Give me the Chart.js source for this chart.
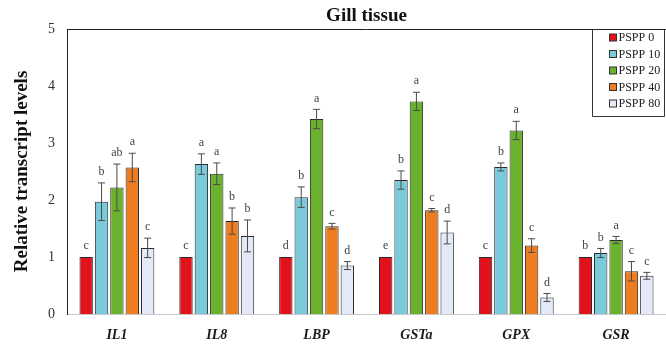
<!DOCTYPE html>
<html>
<head>
<meta charset="utf-8">
<script src="https://cdn.jsdelivr.net/npm/chart.js@4"></script>
<style>
html, body { margin: 0; padding: 0; background: #fff; }
#wrap { width: 666px; height: 346px; }
</style>
</head>
<body>
<div id="wrap"><canvas id="chart"></canvas></div>
<script>
/* global Chart */
const genes = ['IL1', 'IL8', 'LBP', 'GSTa', 'GPX', 'GSR'];
const groups = ['PSPP 0', 'PSPP 10', 'PSPP 20', 'PSPP 40', 'PSPP 80'];
const colors = ['#E2121C', '#7BCADB', '#6AB22E', '#EE7D22', '#E3E9F6'];

const pspp0 = [1, 1, 1, 1, 1, 1];
const pspp10 = [1.97, 2.63, 2.05, 2.35, 2.58, 1.07];
const pspp20 = [2.22, 2.46, 3.42, 3.73, 3.22, 1.30];
const pspp40 = [2.57, 1.63, 1.54, 1.82, 1.20, 0.75];
const pspp80 = [1.16, 1.37, 0.85, 1.43, 0.29, 0.67];

const err0 = [0, 0, 0, 0, 0, 0];
const err10 = [0.33, 0.18, 0.18, 0.16, 0.07, 0.08];
const err20 = [0.41, 0.19, 0.17, 0.16, 0.16, 0.06];
const err40 = [0.25, 0.23, 0.05, 0.03, 0.12, 0.17];
const err80 = [0.17, 0.28, 0.07, 0.20, 0.07, 0.06];

const sig0 = ['c', 'c', 'd', 'e', 'c', 'b'];
const sig10 = ['b', 'a', 'b', 'b', 'b', 'b'];
const sig20 = ['ab', 'a', 'a', 'a', 'a', 'a'];
const sig40 = ['a', 'b', 'c', 'c', 'c', 'c'];
const sig80 = ['c', 'b', 'd', 'd', 'd', 'c'];

const yMin = 0;
const yMax = 5;
const yStep = 1;

const chartTitle = 'Gill tissue';
const yTitle = 'Relative transcript levels';

const valores = [pspp0, pspp10, pspp20, pspp40, pspp80];
const erros = [err0, err10, err20, err40, err80];
const letras = [sig0, sig10, sig20, sig40, sig80];

const serif = '"Liberation Serif", "Times New Roman", serif';

// barras de erro + letras de significancia
const errorBarsPlugin = {
    id: 'errorBars',
    afterDatasetsDraw(chart) {
        const ctx = chart.ctx;
        const y = chart.scales.y;
        ctx.save();
        chart.data.datasets.forEach((ds, i) => {
            const meta = chart.getDatasetMeta(i);
            meta.data.forEach((bar, j) => {
                const v = ds.data[j];
                const e = erros[i][j];
                const top = y.getPixelForValue(v + e);
                const bot = y.getPixelForValue(v - e);
                if (e > 0) {
                    ctx.strokeStyle = '#4a4a4a';
                    ctx.lineWidth = 1;
                    ctx.beginPath();
                    ctx.moveTo(bar.x, top);
                    ctx.lineTo(bar.x, bot);
                    ctx.moveTo(bar.x - 3.5, top);
                    ctx.lineTo(bar.x + 3.5, top);
                    ctx.moveTo(bar.x - 3.5, bot);
                    ctx.lineTo(bar.x + 3.5, bot);
                    ctx.stroke();
                }
                ctx.fillStyle = '#444';
                ctx.font = '12px ' + serif;
                ctx.textAlign = 'center';
                ctx.textBaseline = 'middle';
                ctx.fillText(letras[i][j], bar.x, top - 11);
            });
        });
        ctx.restore();
    }
};

// moldura, titulo e legenda dentro do grafico
const framePlugin = {
    id: 'frame',
    afterDraw(chart) {
        const ctx = chart.ctx;
        const a = chart.chartArea;
        ctx.save();
        ctx.strokeStyle = '#222';
        ctx.lineWidth = 1;
        ctx.beginPath();
        ctx.moveTo(a.left, a.top + 0.5);
        ctx.lineTo(a.right, a.top + 0.5);
        ctx.stroke();

        ctx.fillStyle = '#111';
        ctx.font = 'bold 19px ' + serif;
        ctx.textAlign = 'center';
        ctx.textBaseline = 'middle';
        ctx.fillText(chartTitle, (a.left + a.right) / 2, 16);

        // legenda
        const boxW = 74, boxH = 87;
        const bx = a.right - boxW + 0.5;
        const by = a.top + 0.5;
        ctx.strokeStyle = '#333';
        ctx.beginPath();
        ctx.moveTo(bx, by);
        ctx.lineTo(bx, by + boxH);
        ctx.lineTo(a.right - 1.5, by + boxH);
        ctx.lineTo(a.right - 1.5, by);
        ctx.stroke();
        ctx.font = '12px ' + serif;
        ctx.textAlign = 'left';
        chart.data.datasets.forEach((ds, i) => {
            const cy = by + 8.5 + i * 16.5;
            ctx.fillStyle = ds.backgroundColor;
            ctx.fillRect(bx + 17, cy - 4, 7, 7);
            ctx.strokeStyle = '#333';
            ctx.strokeRect(bx + 17, cy - 4, 7, 7);
            ctx.fillStyle = '#222';
            ctx.fillText(ds.label, bx + 26, cy);
        });
        ctx.restore();
    }
};

const ctx = document.getElementById('chart').getContext('2d');
new Chart(ctx, {
    type: 'bar',
    data: {
        labels: genes,
        datasets: groups.map((g, i) => ({
            label: g,
            data: valores[i],
            backgroundColor: colors[i],
            borderColor: '#2b2b2b',
            borderWidth: 1,
            categoryPercentage: 0.77,
            barPercentage: 0.87
        }))
    },
    options: {
        responsive: true,
        maintainAspectRatio: false,
        animation: false,
        layout: { padding: { top: 29, right: 0, left: 0, bottom: 0 } },
        plugins: {
            legend: { display: false },
            tooltip: { enabled: false }
        },
        scales: {
            x: {
                grid: { display: false, drawTicks: false },
                border: { color: '#c8c8c8', width: 1 },
                ticks: {
                    color: '#1a1a1a',
                    padding: 13,
                    font: { family: serif, size: 14, weight: 'bold', style: 'italic' }
                },
                afterFit: s => { s.height = 32; }
            },
            y: {
                min: yMin,
                max: yMax,
                grid: { display: false, drawTicks: false },
                border: { color: '#222', width: 1 },
                ticks: {
                    stepSize: yStep,
                    color: '#333',
                    padding: 12,
                    font: { family: serif, size: 14 }
                },
                title: {
                    display: true,
                    text: yTitle,
                    color: '#111',
                    font: { family: serif, size: 19, weight: 'bold' },
                    padding: { top: 11, bottom: 0 }
                },
                afterFit: s => { s.width = 67; }
            }
        }
    },
    plugins: [errorBarsPlugin, framePlugin]
});
</script>
</body>
</html>
